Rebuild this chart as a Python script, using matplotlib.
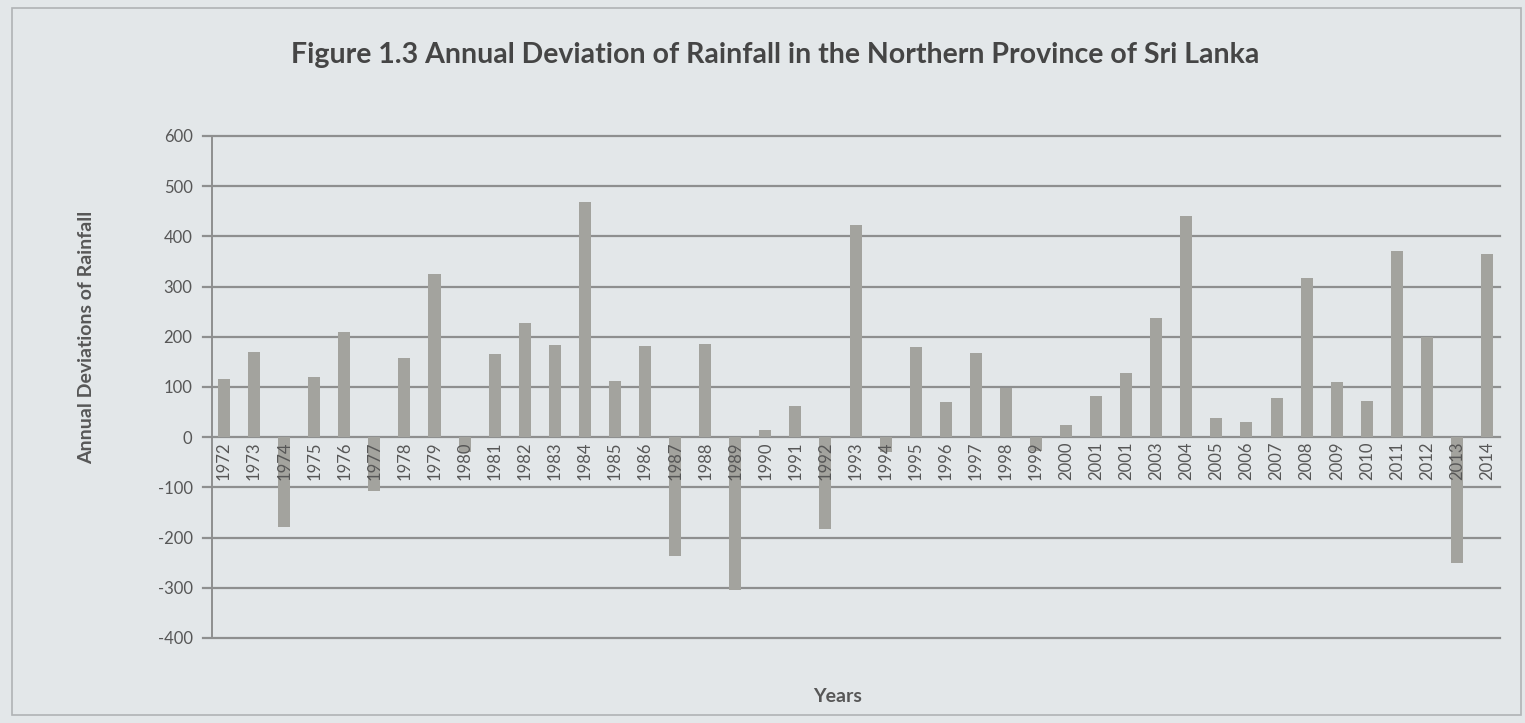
import matplotlib
matplotlib.use("Agg")
import matplotlib.pyplot as plt
from matplotlib.patches import Rectangle
import numpy as np

# years as printed under the bars (2002 is printed as a second "2001")
year_labels = ["1972", "1973", "1974", "1975", "1976", "1977", "1978", "1979", "1980",
               "1981", "1982", "1983", "1984", "1985", "1986", "1987", "1988", "1989",
               "1990", "1991", "1992", "1993", "1994", "1995", "1996", "1997", "1998",
               "1999", "2000", "2001", "2001", "2003", "2004", "2005", "2006", "2007",
               "2008", "2009", "2010", "2011", "2012", "2013", "2014"]
deviations = [115, 170, -178, 120, 210, -108, 158, 325, -30,
              165, 227, 183, 468, 112, 182, -237, 185, -305,
              15, 62, -182, 422, -30, 180, 70, 167, 97,
              -28, 25, 82, 128, 237, 440, 38, 30, 78,
              318, 110, 73, 370, 200, -250, 365]
y_ticks = [600, 500, 400, 300, 200, 100, 0, -100, -200, -300, -400]

bg = "#e3e7e9"
grid_col = "#8e8f8f"
bar_col = "#a3a39e"
txt_col = "#575757"

plt.rcParams['font.family'] = ['Lato', 'DejaVu Sans']

fig = plt.figure(figsize=(15.25, 7.23), dpi=100, facecolor=bg)
# thin frame round the whole chart
fig.patches.append(Rectangle((0.008, 0.011), 0.9894, 0.978, transform=fig.transFigure,
                             fill=False, edgecolor="#b0b3b5", linewidth=1.2))

ax = fig.add_axes([0.139, 0.1176, 0.8446, 0.6943])
ax.set_facecolor(bg)

x = np.arange(len(deviations))
ax.bar(x, deviations, width=0.4, color=bar_col, zorder=3)

for t in y_ticks:
    ax.axhline(t, color=grid_col, linewidth=1.6, zorder=1, xmin=-0.007, clip_on=False)

ax.set_xlim(-0.4, len(deviations) - 0.57)
ax.set_ylim(-400, 600)
ax.set_yticks(y_ticks)
ax.set_yticklabels([str(t) for t in y_ticks], fontsize=12, color=txt_col)
ax.tick_params(axis='y', length=0, pad=14)
ax.set_xticks([])

for s in ["top", "right", "bottom"]:
    ax.spines[s].set_visible(False)
ax.spines["left"].set_color(grid_col)
ax.spines["left"].set_linewidth(1.4)

for i, lab in enumerate(year_labels):
    ax.text(i, -8, lab, rotation=90, ha='center', va='top', fontsize=12,
            color=txt_col, zorder=4)

fig.text(87 / 1525, 1 - 337 / 723, "Annual Deviations of Rainfall", rotation=90,
         ha='center', va='center', fontsize=14, fontweight='bold', color=txt_col)
fig.text(838 / 1525, 1 - 697 / 723, "Years", ha='center', va='center',
         fontsize=14, fontweight='bold', color=txt_col)

fig.text(775 / 1525, 1 - 55 / 723,
         "Figure 1.3 Annual Deviation of Rainfall in the Northern Province of Sri Lanka",
         ha='center', va='center', fontsize=20.5, fontweight='bold', color="#454545")

fig.savefig("out.png", dpi=100, facecolor=bg)
